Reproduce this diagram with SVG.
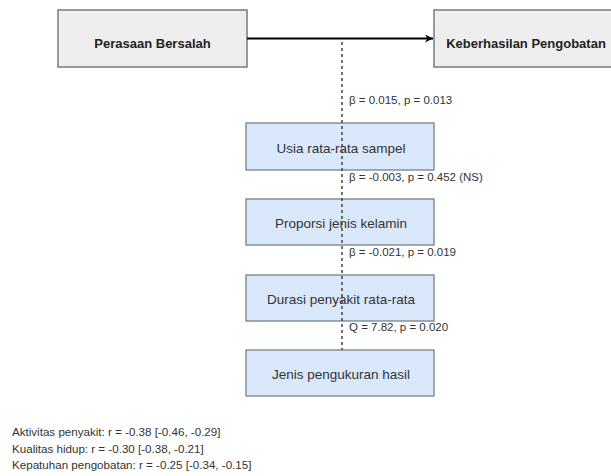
<svg xmlns="http://www.w3.org/2000/svg" width="611" height="476" viewBox="0 0 611 476">
<style>
.grey{fill:#eeeeee;stroke:#7a7a7a;stroke-width:1.5}
.blue{fill:#dae8fc;stroke:#6f7783;stroke-width:1.2}
.bt{font-family:"Liberation Sans",Arial,sans-serif;font-size:13px;font-weight:bold;fill:#222;text-anchor:middle}
.nt{font-family:"Liberation Sans",Arial,sans-serif;font-size:13.5px;fill:#333;text-anchor:middle}
.lb{font-family:"Liberation Sans",Arial,sans-serif;font-size:11.5px;fill:#333}
.nb{font-family:"Liberation Sans",Arial,sans-serif;font-size:11.6px;fill:#333}
</style>
<defs>
<marker id="arr" viewBox="0 0 10 10" refX="10" refY="5" markerWidth="8" markerHeight="8" markerUnits="userSpaceOnUse" orient="auto">
<path d="M0,0 L10,5 L0,10 L3,5 z" fill="#000"/>
</marker>
</defs>
<rect width="611" height="476" fill="#fff"/>
<g id="perasaan">
<rect class="grey" x="58" y="10" width="189" height="57"/>
<text class="bt" x="152.5" y="48">Perasaan Bersalah</text>
</g>
<g id="keberhasilan">
<rect class="grey" x="434" y="10" width="189" height="57"/>
<text class="bt" x="526" y="48">Keberhasilan Pengobatan</text>
</g>
<g id="usia">
<rect class="blue" x="246" y="123" width="188" height="47"/>
<text class="nt" x="341" y="153">Usia rata-rata sampel</text>
</g>
<g id="proporsi">
<rect class="blue" x="246" y="199" width="188" height="46"/>
<text class="nt" x="341" y="228">Proporsi jenis kelamin</text>
</g>
<g id="durasi">
<rect class="blue" x="246" y="275" width="188" height="46"/>
<text class="nt" x="341" y="304">Durasi penyakit rata-rata</text>
</g>
<g id="jenis">
<rect class="blue" x="246" y="350" width="188" height="46"/>
<text class="nt" x="341" y="379">Jenis pengukuran hasil</text>
</g>
<g id="connectors">
<line x1="247" y1="38.5" x2="433" y2="38.5" stroke="#000" stroke-width="2" marker-end="url(#arr)"/>
<line x1="342" y1="42" x2="342" y2="350" stroke="#444" stroke-width="1.5" stroke-dasharray="3,3"/>
</g>
<g id="labels">
<text class="lb" x="349" y="104">β = 0.015, p = 0.013</text>
<text class="lb" x="349" y="181">β = -0.003, p = 0.452 (NS)</text>
<text class="lb" x="349" y="256">β = -0.021, p = 0.019</text>
<text class="lb" x="349" y="331">Q = 7.82, p = 0.020</text>
</g>
<g id="notes">
<text class="nb" x="12" y="436">Aktivitas penyakit: r = -0.38 [-0.46, -0.29]</text>
<text class="nb" x="12" y="452.5">Kualitas hidup: r = -0.30 [-0.38, -0.21]</text>
<text class="nb" x="12" y="469">Kepatuhan pengobatan: r = -0.25 [-0.34, -0.15]</text>
</g>
</svg>
